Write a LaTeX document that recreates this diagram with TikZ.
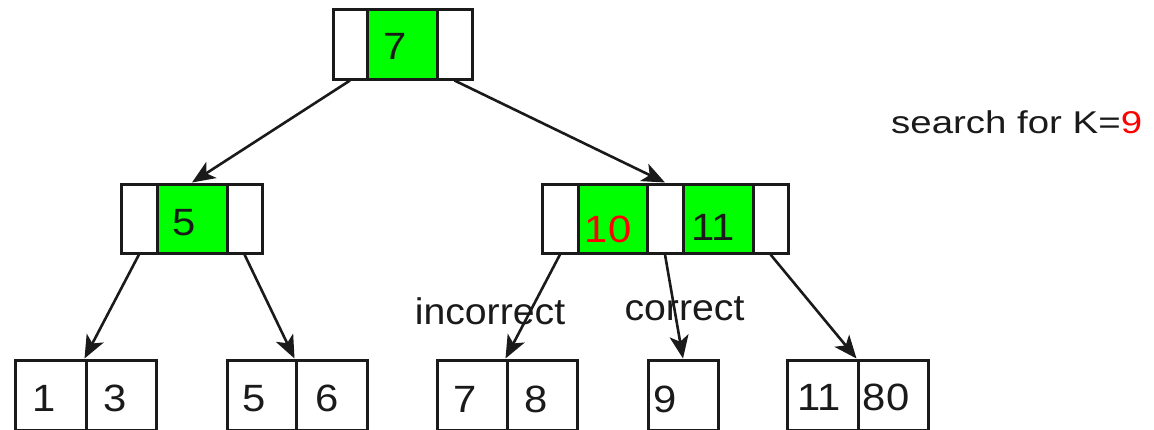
\documentclass[tikz,border=0pt]{standalone}
\usepackage{fontspec}
\setmainfont{Liberation Sans}
\usetikzlibrary{arrows.meta}
\definecolor{ink}{HTML}{1A1A1A}
\definecolor{keygreen}{HTML}{00FF00}
\definecolor{hitred}{HTML}{FF0000}
\begin{document}
\begin{tikzpicture}[x=1pt,y=-1pt,
  cellbox/.style={draw=ink, line width=3pt, inner sep=0pt, fill=white},
  keycell/.style={cellbox, fill=keygreen},
  num/.style={anchor=base, inner sep=0pt, text=ink,
    font=\fontsize{38}{42}\selectfont},
  lbl/.style={anchor=base, inner sep=0pt, text=ink,
    font=\fontsize{37}{42}\selectfont},
  link/.style={draw=ink, line width=2.6pt,
    -{Stealth[length=23pt,width=19pt,inset=6pt]}}
]
\useasboundingbox (0,0) rectangle (1154,429);

% root node
\node[cellbox, minimum width=34pt, minimum height=70pt] (r0) at (350,44) {};
\node[keycell, minimum width=70pt, minimum height=70pt] (r1) at (402,44) {};
\node[cellbox, minimum width=35pt, minimum height=70pt] (r2) at (454.5,44) {};
\node[num] (t7) at (395,59) {\scalebox{1.1}[1]{7}};

% left inner node
\node[cellbox, minimum width=36pt, minimum height=69pt] (a0) at (139,218.5) {};
\node[keycell, minimum width=70pt, minimum height=69pt] (a1) at (192,218.5) {};
\node[cellbox, minimum width=35pt, minimum height=69pt] (a2) at (244.5,218.5) {};
\node[num] (t5) at (184,235) {\scalebox{1.1}[1]{5}};

% right inner node
\node[cellbox, minimum width=36pt, minimum height=69pt] (b0) at (560,218.5) {};
\node[keycell, minimum width=69pt, minimum height=69pt] (b1) at (612.5,218.5) {};
\node[cellbox, minimum width=36pt, minimum height=69pt] (b2) at (665,218.5) {};
\node[keycell, minimum width=70pt, minimum height=69pt] (b3) at (718,218.5) {};
\node[cellbox, minimum width=35pt, minimum height=69pt] (b4) at (770.5,218.5) {};
\node[num, text=hitred] (t10) at (608,242) {\scalebox{1.1}[1]{10}};
\node[num] (t11) at (713,240) {\scalebox{1.1}[1]{11}};

% leaves
\node[cellbox, minimum width=71pt, minimum height=70pt] (l1) at (50.5,395) {};
\node[cellbox, minimum width=70pt, minimum height=70pt] (l3) at (121,395) {};
\node[cellbox, minimum width=69pt, minimum height=70pt] (l5) at (261.5,395) {};
\node[cellbox, minimum width=71pt, minimum height=70pt] (l6) at (331.5,395) {};
\node[cellbox, minimum width=70pt, minimum height=70pt] (l7) at (472,395) {};
\node[cellbox, minimum width=70pt, minimum height=70pt] (l8) at (542,395) {};
\node[cellbox, minimum width=70pt, minimum height=70pt] (l9) at (683,395) {};
\node[cellbox, minimum width=71pt, minimum height=70pt] (l11) at (822.5,395) {};
\node[cellbox, minimum width=70pt, minimum height=70pt] (l80) at (893,395) {};

\node[num] (u1) at (44,411) {\scalebox{1.1}[1]{1}};
\node[num] (u3) at (115,411) {\scalebox{1.1}[1]{3}};
\node[num] (u5) at (254,411) {\scalebox{1.1}[1]{5}};
\node[num] (u6) at (327,411) {\scalebox{1.1}[1]{6}};
\node[num] (u7) at (465,412) {\scalebox{1.1}[1]{7}};
\node[num] (u8) at (536,412) {\scalebox{1.1}[1]{8}};
\node[num] (u9) at (665,412) {\scalebox{1.1}[1]{9}};
\node[num] (u11) at (819,410) {\scalebox{1.1}[1]{11}};
\node[num] (u80) at (886,410) {\scalebox{1.1}[1]{80}};

% edge labels and search key
\node[lbl] (wrong) at (490,324) {\scalebox{1.06}[1]{incorrect}};
\node[lbl] (right) at (684.5,320) {\scalebox{1.06}[1]{correct}};
\node[anchor=base west, inner sep=0pt, text=ink,
  font=\fontsize{31.5}{36}\selectfont] (query) at (891,133)
  {\scalebox{1.22}[1]{search for K=\textcolor{hitred}{9}}};

% child pointers
\draw[link] (r0.south) -- (a1.north);
\draw[link] (r2.south) -- (b2.north);
\draw[link] (a0.south) -- (l3.north west);
\draw[link] (a2.south) -- (l6.north west);
\draw[link] (b0.south) -- (l8.north west);
\draw[link] (b2.south) -- (l9.north);
\draw[link] (b4.south) -- (l80.north west);
\end{tikzpicture}
\end{document}
